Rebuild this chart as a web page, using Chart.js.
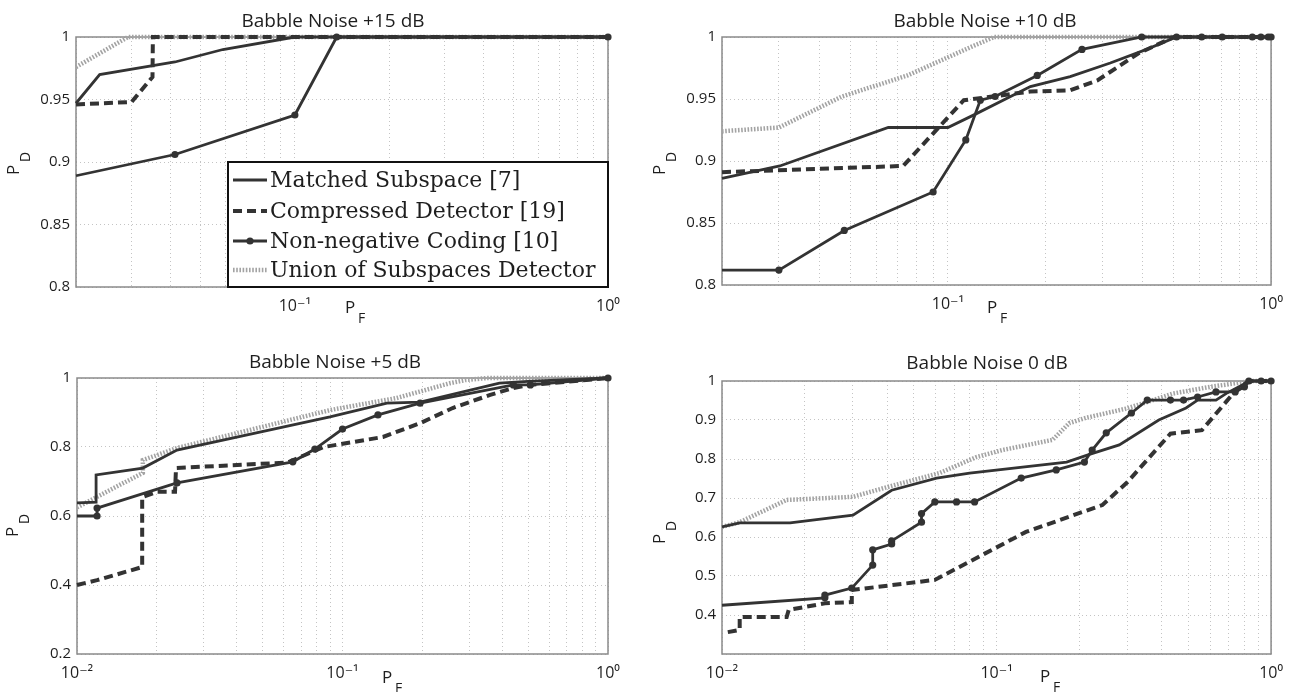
<!DOCTYPE html>
<html><head><meta charset="utf-8">
<script src="https://cdn.jsdelivr.net/npm/chart.js@4.4.1/dist/chart.umd.min.js"></script>
<style>
html,body{margin:0;padding:0;background:#fff;}
#wrap{position:relative;width:1293px;height:692px;overflow:hidden;background:#fff;}
canvas{position:absolute;}
</style></head><body>
<div id="wrap">
<canvas id="c1" width="646" height="340" style="left:0;top:0"></canvas>
<canvas id="c2" width="647" height="340" style="left:646px;top:0"></canvas>
<canvas id="c3" width="646" height="352" style="left:0;top:340px"></canvas>
<canvas id="c4" width="647" height="352" style="left:646px;top:340px"></canvas>
</div>
<script>
// ---------- labels ----------
const seriesNames = ['Matched Subspace [7]', 'Compressed Detector [19]', 'Non-negative Coding [10]', 'Union of Subspaces Detector'];
const panelTitles = ['Babble Noise +15 dB', 'Babble Noise +10 dB', 'Babble Noise +5 dB', 'Babble Noise 0 dB'];
const xAxisName = ['P', 'F'];
const yAxisName = ['P', 'D'];

// ---------- tick values / labels ----------
const xTicksFrom002 = [0.02,0.03,0.04,0.05,0.06,0.07,0.08,0.09,0.1,0.2,0.3,0.4,0.5,0.6,0.7,0.8,0.9,1];
const xTicksFrom001 = [0.01,0.02,0.03,0.04,0.05,0.06,0.07,0.08,0.09,0.1,0.2,0.3,0.4,0.5,0.6,0.7,0.8,0.9,1];
const decadeValues = [0.01, 0.1, 1];
const decadeLabels = ['10\u207B\u00B2', '10\u207B\u00B9', '10\u2070'];
const yTicks15 = [0.8, 0.85, 0.9, 0.95, 1];
const yLabels15 = ['0.8', '0.85', '0.9', '0.95', '1'];
const yTicks10 = [0.8, 0.85, 0.9, 0.95, 1];
const yLabels10 = ['0.8', '0.85', '0.9', '0.95', '1'];
const yTicks5 = [0.2, 0.4, 0.6, 0.8, 1];
const yLabels5 = ['0.2', '0.4', '0.6', '0.8', '1'];
const yTicks0 = [0.3, 0.4, 0.5, 0.6, 0.7, 0.8, 0.9, 1];
const yLabels0 = ['', '0.4', '0.5', '0.6', '0.7', '0.8', '0.9', '1'];

// ---------- data: [P_F, P_D] ----------
// +15 dB
const matched15 = [[0.02,0.947],[0.0238,0.970],[0.0414,0.980],[0.0589,0.990],[0.1,1.0],[1,1.0]];
const compressed15 = [[0.02,0.946],[0.0301,0.948],[0.0351,0.968],[0.0352,1.0],[1,1.0]];
const nonneg15 = [[0.02,0.889],[0.0414,0.906],[0.1,0.9376],[0.136,1.0],[1,1.0]];
const union15 = [[0.02,0.976],[0.0293,1.0],[1,1.0]];
// +10 dB
const matched10 = [[0.02,0.886],[0.0302,0.896],[0.0654,0.927],[0.1,0.927],[0.12,0.937],[0.18,0.96],[0.239,0.968],[0.318,0.979],[0.412,0.99],[0.51,1.0],[1,1.0]];
const compressed10 = [[0.02,0.891],[0.0727,0.896],[0.112,0.949],[0.18,0.956],[0.239,0.957],[0.29,0.965],[0.39,0.987],[0.5,1.0],[1,1.0]];
const nonneg10 = [[0.02,0.812],[0.030,0.812],[0.0478,0.844],[0.090,0.875],[0.1136,0.917],[0.126,0.949],[0.14,0.952],[0.189,0.969],[0.26,0.99],[0.398,1.0],[0.51,1.0],[0.61,1.0],[0.706,1.0],[0.875,1.0],[0.93,1.0],[0.98,1.0],[1,1.0]];
const union10 = [[0.02,0.924],[0.030,0.927],[0.047,0.952],[0.075,0.969],[0.118,0.992],[0.139,1.0],[1,1.0]];
// +5 dB
const matched5 = [[0.01,0.638],[0.0118,0.64],[0.0118,0.719],[0.0177,0.739],[0.0238,0.791],[0.0897,0.887],[0.147,0.927],[0.196,0.93],[0.39,0.985],[0.5,0.99],[1,1.0]];
const compressed5 = [[0.01,0.40],[0.0119,0.414],[0.0176,0.452],[0.0176,0.655],[0.02,0.67],[0.0234,0.67],[0.0236,0.739],[0.062,0.755],[0.085,0.80],[0.142,0.829],[0.196,0.869],[0.26,0.913],[0.36,0.951],[0.44,0.971],[0.51,0.98],[1,1.0]];
const nonneg5 = [[0.01,0.60],[0.0119,0.60],[0.0119,0.623],[0.0238,0.696],[0.065,0.757],[0.0787,0.794],[0.1,0.852],[0.136,0.893],[0.196,0.927],[0.44,0.98],[0.51,0.98],[1,1.0]];
const union5 = [[0.01,0.625],[0.0177,0.725],[0.0177,0.762],[0.0238,0.797],[0.0897,0.907],[0.16,0.942],[0.254,0.985],[0.29,0.994],[0.35,1.0],[1,1.0]];
// 0 dB
const matched0 = [[0.01,0.626],[0.0116,0.636],[0.0177,0.636],[0.030,0.656],[0.0415,0.72],[0.0605,0.751],[0.0798,0.764],[0.18,0.792],[0.218,0.812],[0.28,0.836],[0.39,0.9],[0.49,0.931],[0.54,0.951],[0.63,0.951],[0.69,0.969],[0.81,0.995],[0.85,1.0],[1,1.0]];
const compressed0 = [[0.0105,0.356],[0.0116,0.362],[0.0116,0.395],[0.0172,0.395],[0.0175,0.413],[0.0237,0.43],[0.0297,0.433],[0.0297,0.464],[0.0596,0.49],[0.128,0.613],[0.243,0.682],[0.30,0.741],[0.43,0.865],[0.56,0.874],[0.72,0.964],[0.81,0.995],[0.85,1.0],[1,1.0]];
const nonneg0 = [[0.01,0.425],[0.0237,0.444],[0.0237,0.451],[0.0297,0.469],[0.0354,0.528],[0.0354,0.567],[0.0415,0.582],[0.0415,0.59],[0.0533,0.638],[0.0533,0.66],[0.0596,0.69],[0.0715,0.69],[0.0832,0.69],[0.123,0.751],[0.165,0.772],[0.209,0.792],[0.223,0.823],[0.251,0.867],[0.31,0.918],[0.354,0.951],[0.43,0.951],[0.48,0.951],[0.54,0.959],[0.63,0.972],[0.74,0.972],[0.8,0.985],[0.83,1.0],[0.92,1.0],[1,1.0]];
const union0 = [[0.01,0.626],[0.0116,0.638],[0.0172,0.695],[0.030,0.703],[0.040,0.728],[0.062,0.764],[0.0845,0.805],[0.105,0.823],[0.16,0.849],[0.184,0.892],[0.21,0.905],[0.3,0.93],[0.44,0.968],[0.6,0.985],[0.85,1.0],[1,1.0]];

// ---------- styles ----------
const INK = '#333333';
const UNION_INK = '#a3a3a3';
const TEXT = '#1e1e1e';
const SANS = '"Open Sans", "DejaVu Sans", sans-serif';

function toXY(arr) { return arr.map(p => ({ x: p[0], y: p[1] })); }

function datasets(series, xmin) {
  return [
    { label: seriesNames[0], data: toXY(series[0]), borderColor: INK, borderWidth: 2.8, pointRadius: 0, order: 2 },
    { label: seriesNames[1], data: toXY(series[1]), borderColor: INK, borderWidth: 4, borderDash: [9, 5], pointRadius: 0, order: 3 },
    { label: seriesNames[2], data: toXY(series[2]), borderColor: INK, borderWidth: 2.8, backgroundColor: INK,
      pointBackgroundColor: INK, pointBorderWidth: 0,
      pointRadius: c => (c.raw && c.raw.x <= xmin) ? 0 : 3.6, order: 1 },
    { label: seriesNames[3], data: toXY(series[3]), borderColor: UNION_INK, borderWidth: 4.5, borderDash: [1.6, 1.6], pointRadius: 0, order: 4 }
  ];
}

function drawLegend(ctx, lg) {
  ctx.save();
  ctx.fillStyle = '#fff';
  ctx.fillRect(lg.x0, lg.y0, lg.x1 - lg.x0, lg.y1 - lg.y0);
  ctx.strokeStyle = '#111';
  ctx.lineWidth = 2;
  ctx.strokeRect(lg.x0, lg.y0, lg.x1 - lg.x0, lg.y1 - lg.y0);
  const styles = [
    { c: INK, w: 2.8, d: [] },
    { c: INK, w: 4, d: [9, 5] },
    { c: INK, w: 2.8, d: [], dot: true },
    { c: UNION_INK, w: 4.5, d: [1.6, 1.6] }
  ];
  ctx.font = '22px "DejaVu Serif", serif';
  ctx.textBaseline = 'middle';
  ctx.textAlign = 'left';
  seriesNames.forEach((name, i) => {
    const y = lg.rows[i];
    const s = styles[i];
    ctx.beginPath();
    ctx.setLineDash(s.d);
    ctx.strokeStyle = s.c;
    ctx.lineWidth = s.w;
    ctx.moveTo(lg.sx0, y);
    ctx.lineTo(lg.sx1, y);
    ctx.stroke();
    ctx.setLineDash([]);
    if (s.dot) {
      ctx.beginPath();
      ctx.fillStyle = INK;
      ctx.arc((lg.sx0 + lg.sx1) / 2, y, 3.6, 0, Math.PI * 2);
      ctx.fill();
    }
    ctx.fillStyle = TEXT;
    ctx.fillText(name, lg.tx, y + 1);
  });
  ctx.restore();
}

const decor = {
  id: 'decor',
  beforeDatasetsDraw(chart, args, o) {
    const { ctx, chartArea: a } = chart;
    ctx.save();
    ctx.strokeStyle = '#8a8a8a';
    ctx.lineWidth = 1.5;
    ctx.strokeRect(a.left, a.top, a.right - a.left, a.bottom - a.top);
    ctx.restore();
  },
  afterDraw(chart, args, o) {
    const ctx = chart.ctx;
    ctx.save();
    ctx.fillStyle = TEXT;
    ctx.textBaseline = 'alphabetic';
    ctx.font = '19px ' + SANS;
    ctx.textAlign = 'center';
    ctx.fillText(o.title, o.titleX, o.titleY);
    ctx.textAlign = 'left';
    ctx.font = '17px ' + SANS;
    ctx.fillText(xAxisName[0], o.pfX, o.pfY);
    ctx.font = '14px ' + SANS;
    ctx.fillText(xAxisName[1], o.pfX + 13, o.pfY + 10);
    ctx.translate(o.pdX, o.pdY);
    ctx.rotate(-Math.PI / 2);
    ctx.font = '17px ' + SANS;
    ctx.fillText(yAxisName[0], 0, 0);
    ctx.font = '14px ' + SANS;
    ctx.fillText(yAxisName[1], 13, 11);
    ctx.restore();
    if (o.legend) drawLegend(ctx, o.legend);
  }
};

function makeChart(id, p) {
  const cv = document.getElementById(id);
  const W = cv.width, H = cv.height;
  return new Chart(cv, {
    type: 'line',
    data: { datasets: datasets(p.series, p.xmin) },
    options: {
      responsive: false,
      animation: false,
      devicePixelRatio: 1,
      clip: false,
      elements: { line: { tension: 0, borderCapStyle: 'butt', fill: false } },
      layout: { padding: { left: 0, top: p.area.top, right: W - p.area.right, bottom: 0 } },
      plugins: {
        legend: { display: false },
        tooltip: { enabled: false },
        decor: p.decor
      },
      scales: {
        x: {
          type: 'logarithmic',
          min: p.xmin, max: 1,
          afterBuildTicks: s => { s.ticks = p.xTicks.map(v => ({ value: v })); },
          afterFit: s => { s.height = H - p.area.bottom; },
          ticks: {
            autoSkip: false, maxRotation: 0, padding: 10,
            font: { family: SANS, size: 16 }, color: TEXT,
            callback: v => { const i = decadeValues.findIndex(d => Math.abs(d - v) < 1e-9); return i >= 0 ? decadeLabels[i] : ''; }
          },
          grid: { color: '#c4c4c4', lineWidth: 1, drawTicks: false },
          border: { display: false, dash: [1, 3] }
        },
        y: {
          type: 'linear',
          min: p.yTicks[0], max: 1,
          afterBuildTicks: s => { s.ticks = p.yTicks.map(v => ({ value: v })); },
          afterFit: s => { s.width = p.area.left; },
          ticks: {
            autoSkip: false, padding: 6,
            font: { family: SANS, size: 15 }, color: TEXT,
            callback: (v, i) => p.yLabels[i]
          },
          grid: { color: '#c4c4c4', lineWidth: 1, drawTicks: false },
          border: { display: false, dash: [1, 3] }
        }
      }
    },
    plugins: [decor]
  });
}

makeChart('c1', {
  series: [matched15, compressed15, nonneg15, union15], xmin: 0.02,
  xTicks: xTicksFrom002, yTicks: yTicks15, yLabels: yLabels15,
  area: { left: 76, right: 608, top: 37, bottom: 287 },
  decor: { title: panelTitles[0], titleX: 333, titleY: 27, pfX: 345, pfY: 313, pdX: 19, pdY: 175,
    legend: { x0: 228, y0: 162, x1: 608, y1: 287, rows: [180, 211, 241, 270], sx0: 233, sx1: 267, tx: 270 } }
});
makeChart('c2', {
  series: [matched10, compressed10, nonneg10, union10], xmin: 0.02,
  xTicks: xTicksFrom002, yTicks: yTicks10, yLabels: yLabels10,
  area: { left: 76, right: 626, top: 37, bottom: 285 },
  decor: { title: panelTitles[1], titleX: 339, titleY: 27, pfX: 341, pfY: 313, pdX: 19, pdY: 175 }
});
makeChart('c3', {
  series: [matched5, compressed5, nonneg5, union5], xmin: 0.01,
  xTicks: xTicksFrom001, yTicks: yTicks5, yLabels: yLabels5,
  area: { left: 77, right: 608, top: 38, bottom: 314 },
  decor: { title: panelTitles[2], titleX: 335, titleY: 28, pfX: 382, pfY: 343, pdX: 18, pdY: 197 }
});
makeChart('c4', {
  series: [matched0, compressed0, nonneg0, union0], xmin: 0.01,
  xTicks: xTicksFrom001, yTicks: yTicks0, yLabels: yLabels0,
  area: { left: 76, right: 626, top: 41, bottom: 314 },
  decor: { title: panelTitles[3], titleX: 341, titleY: 29, pfX: 394, pfY: 342, pdX: 19, pdY: 204 }
});
</script>
</body></html>
